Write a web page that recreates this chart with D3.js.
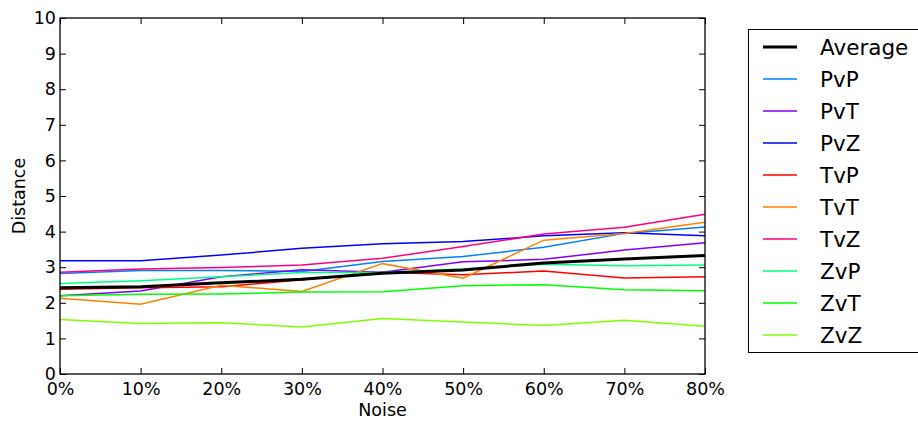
<!DOCTYPE html>
<html>
<head>
<meta charset="utf-8">
<script src="https://cdn.jsdelivr.net/npm/d3@7"></script>
<style>
  body { margin: 0; background: #fff; }
  svg { font-family: "DejaVu Sans", sans-serif; }
</style>
</head>
<body>
<div id="chart"></div>
<script>
// noise levels on the x axis
var noise = [0, 10, 20, 30, 40, 50, 60, 70, 80];
var yTicks = [0, 1, 2, 3, 4, 5, 6, 7, 8, 9, 10];

var names = ['Average', 'PvP', 'PvT', 'PvZ', 'TvP', 'TvT', 'TvZ', 'ZvP', 'ZvT', 'ZvZ'];
var colors = ['#000000', '#0080ff', '#8000ff', '#0000ff', '#ff0000', '#ff8000', '#ff0080', '#00ff80', '#00ff00', '#80ff00'];

var average = [2.42, 2.45, 2.56, 2.66, 2.83, 2.92, 3.12, 3.23, 3.33];
var pvp = [2.82, 2.91, 2.91, 2.88, 3.16, 3.30, 3.56, 3.95, 4.13];
var pvt = [2.20, 2.33, 2.73, 2.93, 2.86, 3.15, 3.22, 3.48, 3.69];
var pvz = [3.18, 3.18, 3.34, 3.53, 3.66, 3.72, 3.88, 3.97, 3.88];
var tvp = [2.38, 2.42, 2.45, 2.65, 2.86, 2.79, 2.89, 2.70, 2.73];
var tvt = [2.13, 1.96, 2.49, 2.32, 3.10, 2.69, 3.76, 3.95, 4.26];
var tvz = [2.86, 2.95, 2.99, 3.06, 3.25, 3.58, 3.93, 4.12, 4.49];
var zvp = [2.54, 2.62, 2.73, 2.85, 2.85, 2.95, 3.08, 3.04, 3.06];
var zvt = [2.20, 2.24, 2.25, 2.30, 2.31, 2.48, 2.51, 2.37, 2.34];
var zvz = [1.53, 1.42, 1.44, 1.32, 1.56, 1.46, 1.36, 1.51, 1.34];

var series = [average, pvp, pvt, pvz, tvp, tvt, tvz, zvp, zvt, zvz];

var W = 918, H = 423;
var margin = {left: 60, right: 213, top: 18, bottom: 49};

var svg = d3.select('#chart')
.append('svg')
.attr('width', W)
.attr('height', H);

var x = d3.scaleLinear().domain([0, 80]).range([margin.left, W - margin.right]);
var y = d3.scaleLinear().domain([0, 10]).range([H - margin.bottom, margin.top]);

var line = d3.line()
.x(function(d, i){ return x(noise[i]); })
.y(function(d){ return y(d); });

// the match-up lines
series.forEach(function(s, k){
    if (k === 0) return;
    svg.append('path')
    .datum(s)
    .attr('d', line)
    .attr('fill', 'none')
    .attr('stroke', colors[k])
    .attr('stroke-width', 1.5);
});

// average on top, thicker
svg.append('path')
.datum(average)
.attr('d', line)
.attr('fill', 'none')
.attr('stroke', colors[0])
.attr('stroke-width', 3);

// frame
svg.append('rect')
.attr('x', x(0))
.attr('y', y(10))
.attr('width', x(80) - x(0))
.attr('height', y(0) - y(10))
.attr('fill', 'none')
.attr('stroke', '#000')
.attr('stroke-width', 1.3);

// axes with inward ticks
var xAxis = d3.axisBottom(x).tickValues(noise).tickFormat(function(d){ return d + '%'; })
.tickSizeInner(-6).tickSizeOuter(0).tickPadding(10);
var gx = svg.append('g').attr('transform', 'translate(0,' + y(0) + ')').call(xAxis);

var yAxis = d3.axisLeft(y).tickValues(yTicks).tickSizeInner(-6).tickSizeOuter(0).tickPadding(4);
var gy = svg.append('g').attr('transform', 'translate(' + x(0) + ',0)').call(yAxis);

// top and right ticks
svg.append('g').attr('transform', 'translate(0,' + y(10) + ')')
.call(d3.axisTop(x).tickValues(noise).tickFormat('').tickSizeInner(-6).tickSizeOuter(0));
svg.append('g').attr('transform', 'translate(' + x(80) + ',0)')
.call(d3.axisRight(y).tickValues(yTicks).tickFormat('').tickSizeInner(-6).tickSizeOuter(0));

svg.selectAll('.domain').remove();
svg.selectAll('.tick line').attr('stroke', '#000');
svg.selectAll('.tick text').attr('font-size', 17.5).attr('fill', '#000')
.attr('font-family', '"DejaVu Sans", sans-serif');
gx.selectAll('.tick text').attr('dy', '0.6em');

svg.append('text')
.attr('x', (x(0) + x(80)) / 2)
.attr('y', 416)
.attr('text-anchor', 'middle')
.attr('font-size', 17.5)
.text('Noise');

svg.append('text')
.attr('transform', 'translate(25,' + ((y(0) + y(10)) / 2) + ') rotate(-90)')
.attr('text-anchor', 'middle')
.attr('font-size', 17.5)
.text('Distance');

// legend
var lg = svg.append('g');
lg.append('rect')
.attr('x', 748.5)
.attr('y', 29.5)
.attr('width', 200)
.attr('height', 323)
.attr('fill', '#fff')
.attr('stroke', '#000')
.attr('stroke-width', 1);

names.forEach(function(n, k){
    var ly = 47 + k * 32;
    lg.append('line')
    .attr('x1', 763).attr('x2', 797)
    .attr('y1', ly).attr('y2', ly)
    .attr('stroke', colors[k])
    .attr('stroke-width', k === 0 ? 3 : 1.5);
    lg.append('text')
    .attr('x', 820)
    .attr('y', ly)
    .attr('dy', '0.36em')
    .attr('font-size', 21.5)
    .text(n);
});
</script>
</body>
</html>
